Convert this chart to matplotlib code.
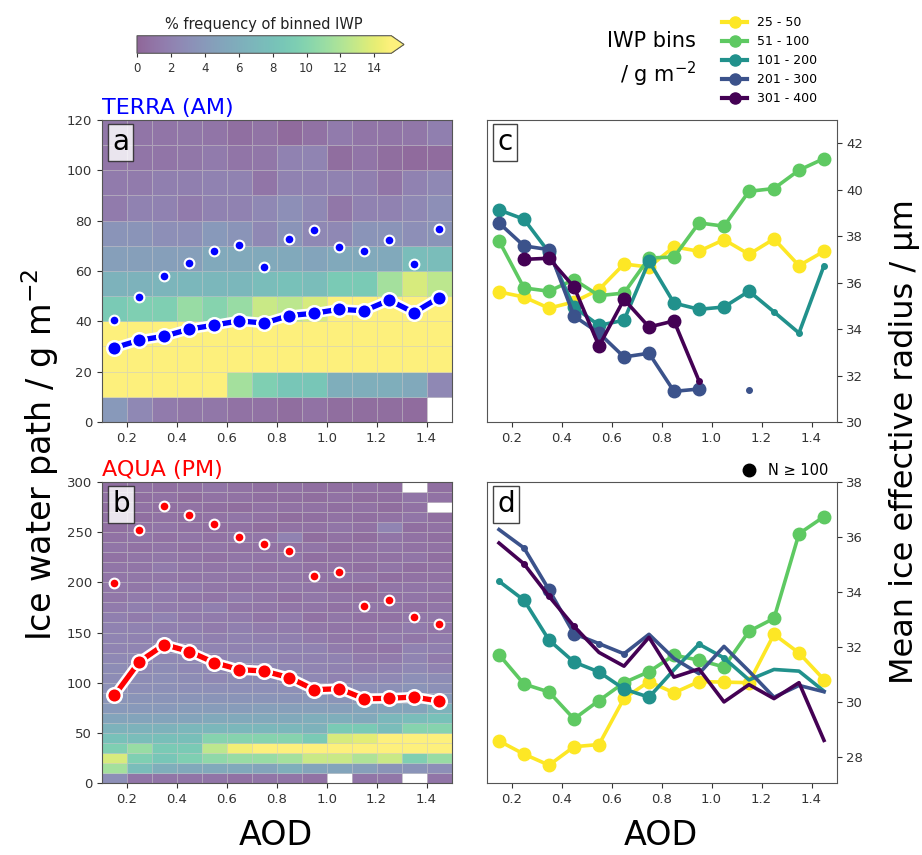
import numpy as np
import matplotlib
matplotlib.use("Agg")
import matplotlib.pyplot as plt
from matplotlib.lines import Line2D

nan = np.nan

# ---------------- data ----------------
aod_edges = [0.1, 0.2, 0.3, 0.4, 0.5, 0.6, 0.7, 0.8, 0.9, 1.0, 1.1, 1.2, 1.3, 1.4, 1.5]
aod_centers = [0.15, 0.25, 0.35, 0.45, 0.55, 0.65, 0.75, 0.85, 0.95, 1.05, 1.15, 1.25, 1.35, 1.45]

terra_iwp_edges = list(range(0, 130, 10))
aqua_iwp_edges = list(range(0, 310, 10))

# % frequency of binned IWP, rows = IWP bins bottom->top, cols = AOD bins
terra_freq = [
    [4.0, 2.5, 1.5, 1.2, 1.2, 0.8, 0.8, 0.5, 0.8, 0.5, 0.5, 0.5, 0.4, nan],
    [15.5, 15.5, 15.5, 15.5, 15.5, 11.5, 9.5, 8.5, 8.5, 6.0, 6.0, 6.0, 5.5, 2.5],
    [15.5, 15.5, 15.5, 15.5, 15.5, 15.5, 15.5, 15.5, 15.5, 15.5, 15.5, 15.5, 15.5, 15.5],
    [15.5, 15.5, 15.5, 15.5, 15.5, 15.5, 15.5, 15.5, 15.5, 15.5, 15.5, 15.5, 15.5, 15.5],
    [9.0, 9.5, 9.5, 11.0, 10.0, 11.0, 13.0, 12.5, 13.5, 15.5, 15.5, 15.5, 15.5, 15.5],
    [6.5, 6.5, 6.8, 7.0, 7.0, 7.0, 7.5, 8.0, 7.5, 9.0, 9.0, 11.5, 13.5, 12.5],
    [4.5, 4.5, 4.5, 4.5, 5.5, 5.5, 5.5, 5.5, 5.0, 5.5, 5.5, 5.5, 7.5, 7.5],
    [3.5, 3.5, 3.0, 3.0, 4.0, 3.5, 2.5, 3.5, 2.5, 2.5, 3.5, 3.5, 3.0, 3.5],
    [1.5, 2.0, 2.0, 1.5, 2.0, 2.0, 2.5, 3.0, 2.5, 1.2, 2.0, 2.0, 2.5, 3.0],
    [1.5, 1.5, 1.8, 1.8, 2.0, 2.0, 1.0, 2.0, 2.0, 2.0, 1.8, 1.0, 2.0, 2.5],
    [1.0, 1.0, 1.0, 1.2, 1.5, 1.0, 1.2, 2.0, 2.2, 0.5, 1.0, 0.5, 0.3, 0.4],
    [1.2, 1.0, 1.0, 1.2, 1.0, 0.6, 0.9, 0.3, 0.8, 1.5, 1.0, 1.0, 1.2, 1.8],
]

aqua_freq = [
    [3.0, 1.0, 1.0, 1.0, 1.0, 0.8, 1.0, 1.0, 0.8, nan, 1.0, 1.2, nan, 1.0],
    [11.5, 7.5, 6.0, 5.5, 5.5, 5.5, 5.0, 6.0, 5.0, 5.0, 4.5, 3.5, 3.5, 3.0],
    [13.5, 9.5, 8.5, 9.5, 10.5, 11.0, 11.0, 11.5, 13.0, 13.0, 12.0, 13.0, 9.5, 11.0],
    [9.5, 11.0, 9.0, 9.0, 12.5, 14.5, 15.5, 15.5, 15.5, 15.5, 15.5, 15.5, 15.5, 15.5],
    [8.0, 7.5, 7.8, 7.8, 10.0, 10.0, 10.0, 10.0, 9.0, 13.5, 14.0, 15.5, 15.5, 15.5],
    [6.5, 6.5, 6.5, 7.0, 7.0, 7.0, 7.0, 7.0, 6.5, 9.0, 9.0, 7.5, 10.0, 10.0],
    [5.0, 5.0, 5.0, 5.0, 5.5, 5.5, 5.5, 5.5, 6.0, 6.0, 5.5, 7.0, 7.5, 8.0],
    [4.0, 4.0, 4.0, 4.2, 4.2, 4.2, 4.5, 4.5, 4.5, 4.5, 5.0, 5.0, 5.0, 6.5],
    [3.5, 3.5, 3.5, 3.5, 3.5, 3.5, 3.5, 3.5, 3.8, 3.5, 3.8, 4.0, 4.0, 4.0],
    [3.2, 3.0, 3.2, 3.0, 3.0, 3.0, 3.0, 3.0, 3.2, 3.0, 3.0, 3.2, 3.5, 3.2],
    [2.8, 2.8, 3.0, 2.8, 2.5, 2.8, 2.8, 2.8, 2.5, 2.0, 2.5, 2.5, 3.0, 2.8],
    [2.8, 2.5, 2.8, 2.5, 2.5, 2.5, 2.5, 2.5, 2.2, 2.0, 1.8, 2.0, 2.5, 2.0],
    [2.5, 2.5, 2.5, 2.5, 2.2, 2.5, 2.5, 2.0, 2.0, 2.0, 1.5, 1.5, 2.2, 1.5],
    [2.2, 2.2, 2.5, 2.2, 2.2, 2.0, 2.2, 2.0, 2.0, 1.5, 1.2, 1.0, 2.0, 1.8],
    [2.2, 2.0, 2.2, 2.0, 1.8, 2.0, 1.8, 1.8, 1.5, 1.2, 1.0, 1.5, 1.2, 1.5],
    [2.0, 2.0, 1.8, 1.8, 1.5, 1.8, 1.5, 1.5, 1.2, 1.0, 1.0, 1.2, 1.5, 1.0],
    [1.8, 1.5, 2.0, 1.5, 1.5, 1.5, 1.0, 1.5, 0.8, 1.2, 0.8, 0.8, 1.2, 1.2],
    [1.5, 1.8, 1.5, 1.5, 1.8, 1.2, 1.2, 1.0, 1.0, 0.8, 1.0, 1.0, 0.8, 1.0],
    [1.2, 1.5, 1.5, 1.2, 1.0, 1.5, 1.2, 0.8, 1.2, 1.0, 0.8, 0.8, 1.0, 0.8],
    [1.2, 1.2, 1.5, 1.5, 1.2, 1.0, 1.0, 1.2, 1.0, 0.6, 0.5, 1.0, 1.0, 1.0],
    [1.0, 1.2, 1.2, 1.0, 1.2, 1.0, 1.2, 1.0, 0.8, 1.0, 1.0, 0.6, 0.8, 0.8],
    [1.0, 1.0, 1.5, 1.2, 1.0, 1.2, 0.8, 1.0, 0.8, 0.8, 0.6, 1.0, 0.6, 0.8],
    [0.8, 1.0, 1.2, 1.0, 0.8, 1.0, 1.0, 1.2, 0.6, 0.8, 0.8, 0.8, 1.0, 0.6],
    [1.0, 0.8, 1.0, 0.8, 1.0, 0.8, 0.8, 0.8, 1.0, 0.6, 0.8, 1.0, 0.8, 0.8],
    [0.8, 1.0, 0.8, 1.0, 0.8, 1.0, 1.0, 2.0, 0.5, 0.8, 0.5, 1.0, 0.8, 0.6],
    [0.6, 0.8, 1.0, 0.8, 0.6, 0.8, 0.5, 0.8, 0.8, 1.0, 0.8, 2.2, 0.6, 0.8],
    [0.8, 0.6, 0.8, 0.6, 0.8, 1.0, 0.8, 0.5, 0.6, 0.8, 0.6, 0.8, 1.0, 0.6],
    [0.6, 0.8, 0.6, 0.8, 0.6, 0.5, 0.8, 0.8, 0.8, 0.6, 0.8, 0.5, 0.8, nan],
    [0.8, 0.6, 0.8, 0.5, 0.8, 0.8, 0.6, 0.6, 0.5, 0.8, 0.5, 0.6, 1.0, 0.8],
    [0.6, 0.8, 0.6, 0.8, 1.0, 0.8, 0.6, 0.8, 0.6, 0.6, 0.8, 0.6, nan, 0.6],
]

terra_median = [29.5, 32.5, 34.1, 36.9, 38.5, 40.2, 39.3, 42.3, 43.2, 44.8, 44.2, 48.4, 43.5, 49.4]
terra_upper = [40.5, 49.8, 57.9, 63.2, 67.9, 70.5, 61.6, 72.9, 76.4, 69.5, 67.8, 72.2, 62.9, 76.5]
aqua_median = [87.4, 121.0, 138.0, 131.0, 120.0, 113.0, 111.6, 105.0, 93.0, 94.0, 84.0, 84.4, 85.7, 81.7]
aqua_upper = [199.0, 252.0, 276.0, 267.0, 258.0, 245.0, 238.5, 231.6, 206.6, 210.3, 176.4, 182.0, 165.4, 158.5]

bin_labels = ["25 - 50", "51 - 100", "101 - 200", "201 - 300", "301 - 400"]
bin_colors = ["#fde725", "#5ec962", "#21918c", "#3b528b", "#440154"]

# Mean ice effective radius (um), TERRA
terra_re = [
    [35.6, 35.38, 34.9, 35.17, 35.7, 36.8, 36.67, 37.54, 37.35, 37.85, 37.22, 37.88, 36.73, 37.35],
    [37.8, 35.77, 35.63, 36.13, 35.44, 35.55, 37.06, 37.1, 38.57, 38.43, 39.93, 40.05, 40.84, 41.34],
    [39.13, 38.73, 37.3, 34.95, 34.16, 34.38, 36.92, 35.12, 34.85, 34.95, 35.63, 34.74, 33.83, 36.73],
    [38.57, 37.58, 37.42, 34.56, 33.83, 32.8, 32.96, 31.32, 31.42, nan, 31.36, nan, nan, nan],
    [nan, 37.0, 37.05, 35.81, 33.27, 35.28, 34.09, 34.35, 31.77, nan, nan, nan, nan, nan],
]
# 2 = N >= 100 (large marker), 1 = fewer (small marker), 0 = no marker
terra_n_class = [
    [2, 2, 2, 2, 2, 2, 2, 2, 2, 2, 2, 2, 2, 2],
    [2, 2, 2, 2, 2, 2, 2, 2, 2, 2, 2, 2, 2, 2],
    [2, 2, 2, 2, 2, 2, 2, 2, 2, 2, 2, 1, 1, 1],
    [2, 2, 2, 2, 2, 2, 2, 2, 2, 0, 1, 0, 0, 0],
    [0, 2, 2, 2, 2, 2, 2, 2, 1, 0, 0, 0, 0, 0],
]

# Mean ice effective radius (um), AQUA
aqua_re = [
    [28.58, 28.1, 27.7, 28.37, 28.45, 30.13, 30.74, 30.33, 30.74, 30.72, 30.7, 32.46, 31.78, 30.81],
    [31.72, 30.65, 30.36, 29.38, 30.05, 30.7, 31.1, 31.7, 31.52, 31.27, 32.57, 33.04, 36.12, 36.74],
    [34.39, 33.7, 32.25, 31.45, 31.09, 30.47, 30.17, 31.17, 32.1, 31.6, 30.8, 31.18, 31.12, 30.39],
    [36.27, 35.6, 34.08, 32.48, 32.12, 31.75, 32.46, 31.58, 31.03, 32.02, 31.12, 30.17, 30.6, 30.37],
    [35.78, 35.02, 33.84, 32.75, 31.8, 31.3, 32.35, 30.9, 31.2, 30.0, 30.63, 30.12, 30.7, 28.6],
]
aqua_n_class = [
    [2, 2, 2, 2, 2, 2, 2, 2, 2, 2, 2, 2, 2, 2],
    [2, 2, 2, 2, 2, 2, 2, 2, 2, 2, 2, 2, 2, 2],
    [1, 2, 2, 2, 2, 2, 2, 0, 1, 1, 0, 0, 0, 0],
    [0, 1, 2, 2, 1, 1, 0, 0, 0, 0, 0, 0, 0, 0],
    [0, 1, 1, 1, 0, 0, 0, 0, 0, 0, 0, 0, 0, 0],
]

xticks = [0.2, 0.4, 0.6, 0.8, 1.0, 1.2, 1.4]
cbar_ticks = [0, 2, 4, 6, 8, 10, 12, 14]

# ---------------- figure ----------------
W, H = 922, 855
fig = plt.figure(figsize=(W / 100, H / 100), dpi=100)

def fax(x0, y0, x1, y1):
    return fig.add_axes([x0 / W, 1 - y1 / H, (x1 - x0) / W, (y1 - y0) / H])

ax_a = fax(102, 120, 451.5, 422)
ax_b = fax(102, 482, 451.5, 783)
ax_c = fax(486.5, 120, 836.5, 422)
ax_d = fax(486.5, 482, 836.5, 783)
cax = fax(137, 35.7, 404, 53.3)

tick_col = "#333333"
spine_col = "#555555"

def style_axes(ax):
    for s in ax.spines.values():
        s.set_color(spine_col)
    ax.tick_params(colors=tick_col, labelsize=9.5, labelcolor=tick_col)

cmap = plt.get_cmap("viridis")

def heat_panel(ax, freq, yedges, med, upp, col, title, letter, ylim, yticks):
    data = np.ma.masked_invalid(np.array(freq))
    mesh = ax.pcolormesh(aod_edges, yedges, data, cmap=cmap, vmin=0, vmax=15,
                         alpha=0.6, edgecolors=(0.84, 0.84, 0.84), linewidth=0.45)
    ax.plot(aod_centers, med, color="white", lw=7.5, zorder=3, solid_capstyle="round")
    ax.plot(aod_centers, med, color=col, lw=3.8, marker="o", ms=10.5,
            mec="white", mew=1.8, zorder=4)
    ax.plot(aod_centers, upp, "o", color=col, ms=7, mec="white", mew=1.5, ls="none", zorder=4)
    ax.set_xlim(0.1, 1.5)
    ax.set_ylim(*ylim)
    ax.set_xticks(xticks)
    ax.set_yticks(yticks)
    ax.set_title(title, loc="left", color=col, fontsize=16, pad=4)
    ax.text(0.029, 0.972, letter, transform=ax.transAxes, fontsize=20, va="top", ha="left",
            zorder=6, bbox=dict(boxstyle="square,pad=0.15", facecolor="white", alpha=0.82,
                                edgecolor="#222222", lw=1.0))
    style_axes(ax)
    return mesh

mesh = heat_panel(ax_a, terra_freq, terra_iwp_edges, terra_median, terra_upper, "blue",
                  "TERRA (AM)", "a", (0, 120), [0, 20, 40, 60, 80, 100, 120])
heat_panel(ax_b, aqua_freq, aqua_iwp_edges, aqua_median, aqua_upper, "red",
           "AQUA (PM)", "b", (0, 300), [0, 50, 100, 150, 200, 250, 300])

def re_panel(ax, re, ncls, letter, ylim, yticks):
    for vals, cls, c in zip(re, ncls, bin_colors):
        v = np.array(vals, dtype=float)
        k = np.array(cls)
        x = np.array(aod_centers)
        ax.plot(x, v, color=c, lw=2.6, zorder=3)
        big = k == 2
        small = k == 1
        ax.plot(x[big], v[big], "o", color=c, ms=9, ls="none", zorder=3)
        ax.plot(x[small], v[small], "o", color=c, ms=4, ls="none", zorder=3)
    ax.set_xlim(0.1, 1.5)
    ax.set_ylim(*ylim)
    ax.set_xticks(xticks)
    ax.set_yticks(yticks)
    ax.yaxis.tick_right()
    ax.text(0.031, 0.972, letter, transform=ax.transAxes, fontsize=20, va="top", ha="left",
            zorder=6, bbox=dict(boxstyle="square,pad=0.15", facecolor="white",
                                edgecolor="#444444", lw=1.0))
    style_axes(ax)

re_panel(ax_c, terra_re, terra_n_class, "c", (30, 43), [30, 32, 34, 36, 38, 40, 42])
re_panel(ax_d, aqua_re, aqua_n_class, "d", (27.05, 38), [28, 30, 32, 34, 36, 38])

# colorbar
cb = fig.colorbar(mesh, cax=cax, orientation="horizontal", extend="max", ticks=cbar_ticks)
cb.outline.set_edgecolor(spine_col)
cb.ax.tick_params(labelsize=8.5, colors=tick_col, length=3)
cax.set_title("% frequency of binned IWP", fontsize=10.5, pad=5, color="#222222")

# legend of IWP bins
handles = [Line2D([], [], color=c, lw=3, marker="o", ms=8) for c in bin_colors]
fig.legend(handles, bin_labels, loc="upper left", bbox_to_anchor=(722 / W, 1 - 16 / H),
           frameon=False, fontsize=9, handlelength=2.0, handletextpad=0.8,
           labelspacing=0.48, borderaxespad=0, borderpad=0)
fig.text(696 / W, 1 - 60 / H, "IWP bins\n/ g m$^{-2}$", ha="right", va="center",
         multialignment="right", fontsize=15, linespacing=1.4)

# N >= 100 legend
ax_d.legend([Line2D([], [], color="black", marker="o", ms=9, ls="none")], ["N ≥ 100"],
            loc="lower right", bbox_to_anchor=(0.99, 1.0), frameon=False, fontsize=10.5,
            handletextpad=0.3, borderaxespad=0.1, borderpad=0.2)

# axis labels
fig.text(40 / W, 1 - 455 / H, "Ice water path / g m$^{-2}$", rotation=90, ha="center",
         va="center", fontsize=24)
fig.text(904 / W, 1 - 442 / H, "Mean ice effective radius / μm", rotation=90, ha="center",
         va="center", fontsize=23)
fig.text(276 / W, 1 - 835 / H, "AOD", ha="center", va="center", fontsize=24)
fig.text(661 / W, 1 - 835 / H, "AOD", ha="center", va="center", fontsize=24)

fig.savefig("out.png", dpi=100)
